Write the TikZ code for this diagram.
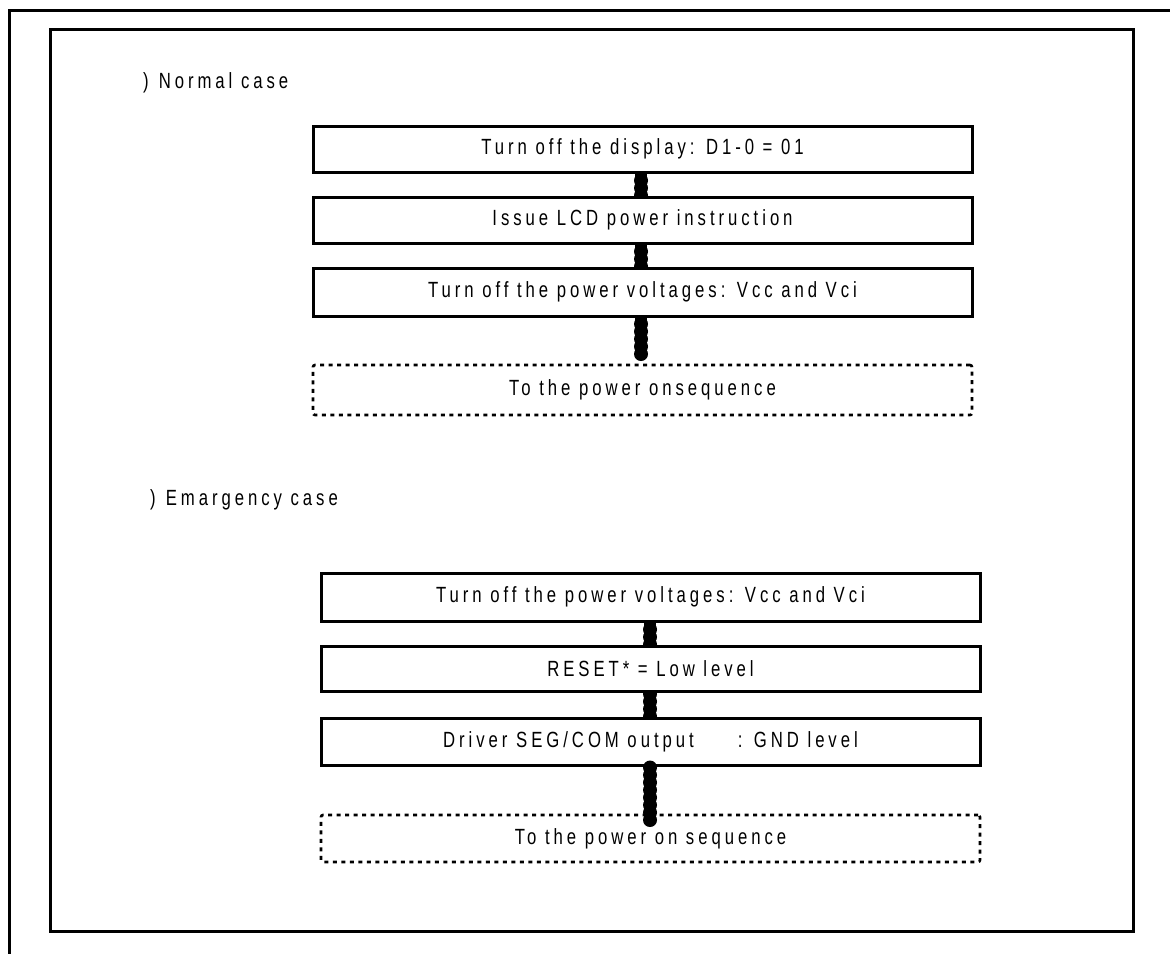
\documentclass[tikz,border=0pt]{standalone}
\usepackage{fontspec}
\setmainfont{Liberation Sans}[LetterSpace=18,FakeStretch=0.76]
\pgfdeclarelayer{background}
\pgfsetlayers{background,main}
\begin{document}
\begin{tikzpicture}[x=1pt,y=-1pt,
  every node/.style={font=\fontsize{22}{25}\selectfont},
  stepbox/.style={draw=black,line width=3pt,fill=white,inner sep=0pt,minimum width=659pt},
  endbox/.style={draw=black,line width=2.6pt,dash pattern=on 4pt off 4.5pt,rounded corners=2pt,inner sep=0pt,minimum width=659pt},
  linkcore/.style={line width=12pt,draw=black},
  linkdots/.style={line width=14pt,draw=black,line cap=round,dash pattern=on 0pt off 7.5pt},
  frame/.style={line width=3pt,draw=black}]
\useasboundingbox (0,0) rectangle (1170,954);
% outer open frame
\draw[frame] (8,10) -- (1170,10);
\draw[frame] (9,10) -- (9,954);
% inner frame
\draw[frame] (50,29) rectangle (1133,931);
% labels
\node[anchor=west,inner sep=0pt] (lab1) at (143,83) {)\hspace{10pt}Normal case};
\node[anchor=west,inner sep=0pt] (lab2) at (150,500) {)\hspace{10pt}Emargency case};
% normal case
\node[stepbox,minimum height=46pt] (n1) at (642.5,149) {Turn off the display: D1-0 = 01};
\node[stepbox,minimum height=46pt] (n2) at (642.5,220) {Issue LCD power instruction};
\node[stepbox,minimum height=48pt] (n3) at (642.5,292) {Turn off the power voltages: Vcc and Vci};
\node[endbox,minimum height=50pt] (n4) at (642.5,390) {To the power onsequence};
\coordinate (n3e) at (641,354);
\begin{pgfonlayer}{background}
\draw[linkcore] (n2.north -| 641,0) -- (n1.south -| 641,0);
\draw[linkdots] (n2.north -| 641,0) -- (n1.south -| 641,0);
\draw[linkcore] (n3.north -| 641,0) -- (n2.south -| 641,0);
\draw[linkdots] (n3.north -| 641,0) -- (n2.south -| 641,0);
\end{pgfonlayer}
\draw[linkcore] (n3e) -- (n3.south -| 641,0);
\draw[linkdots] (n3e) -- (n3.south -| 641,0);
% emergency case
\node[stepbox,minimum height=48pt] (e1) at (650.5,597) {Turn off the power voltages: Vcc and Vci};
\node[stepbox,minimum height=45pt] (e2) at (650.5,668.5) {RESET* = Low level};
\node[stepbox,minimum height=47pt] (e3) at (650.5,741.5) {Driver SEG/COM output\hspace{44pt}: GND level};
\node[endbox,minimum height=47pt] (e4) at (650.5,838.5) {To the power on sequence};
\coordinate (e3e) at (650,820);
\begin{pgfonlayer}{background}
\draw[linkcore] (e2.north -| 650,0) -- (e1.south -| 650,0);
\draw[linkdots] (e2.north -| 650,0) -- (e1.south -| 650,0);
\draw[linkcore] (e3.north -| 650,0) -- (e2.south -| 650,0);
\draw[linkdots] (e3.north -| 650,0) -- (e2.south -| 650,0);
\end{pgfonlayer}
\draw[linkcore] (e3e) -- (e3.south -| 650,0);
\draw[linkdots] (e3e) -- (e3.south -| 650,0);
\end{tikzpicture}
\end{document}
